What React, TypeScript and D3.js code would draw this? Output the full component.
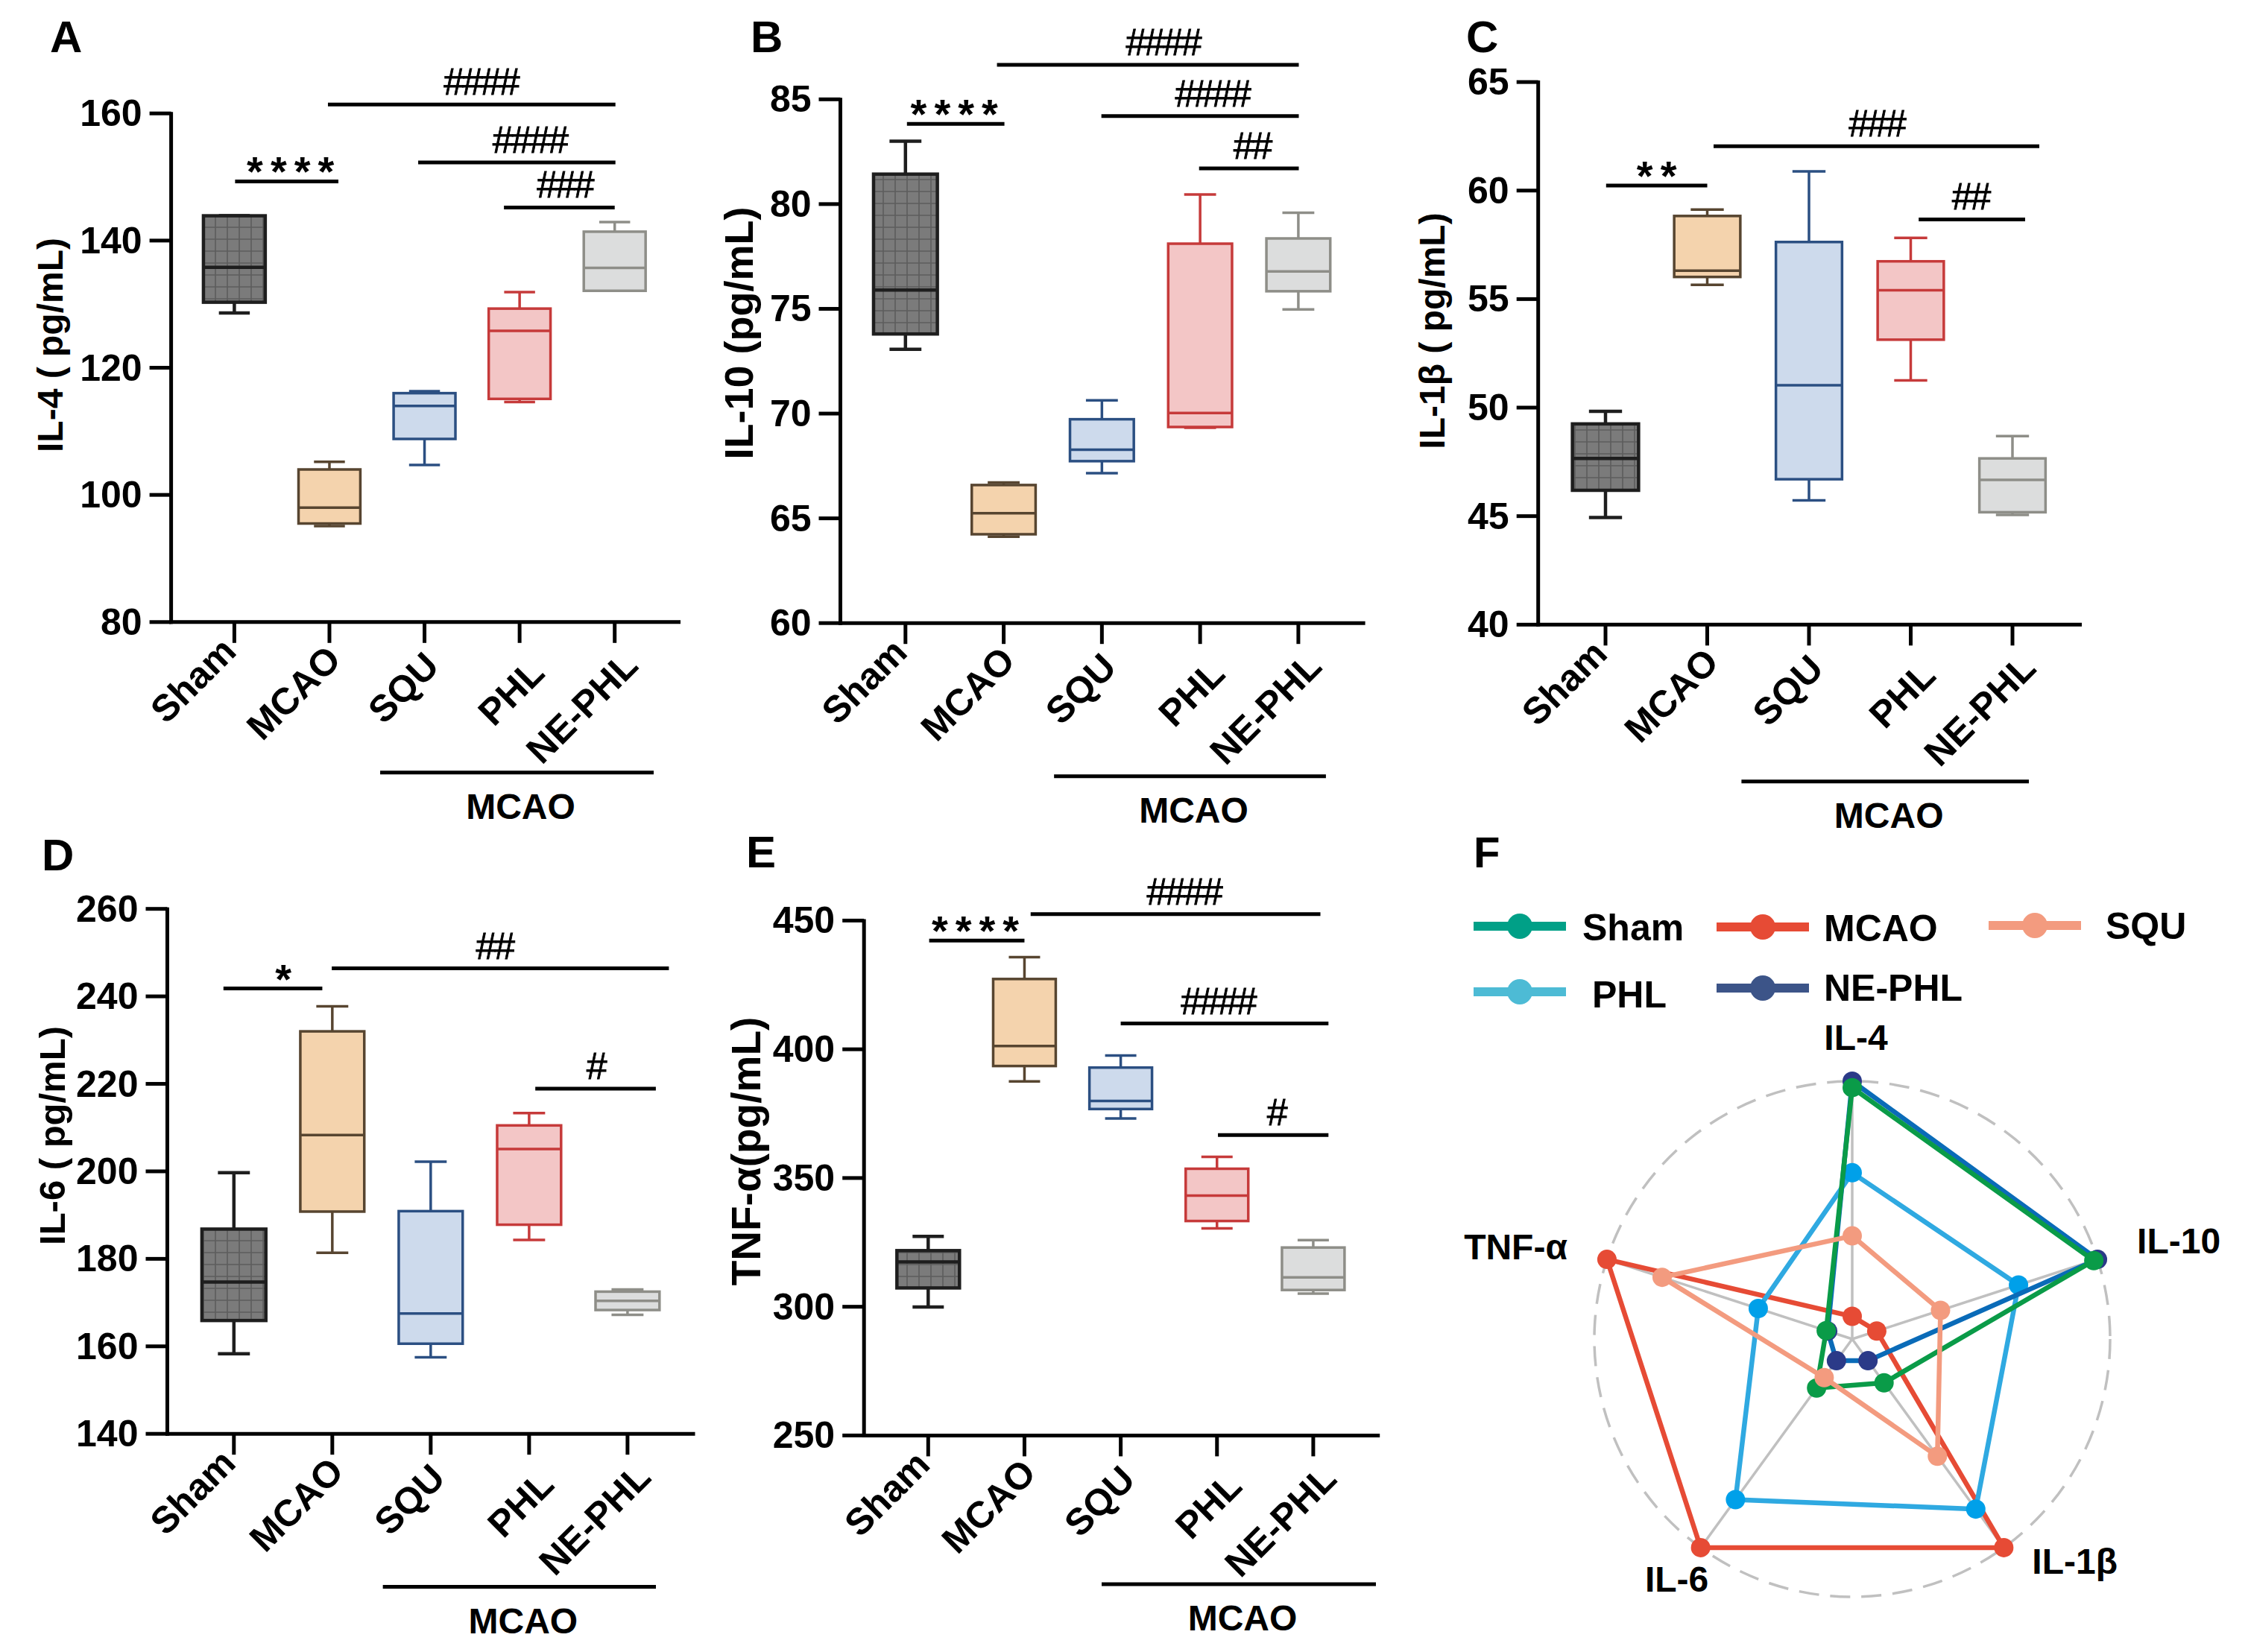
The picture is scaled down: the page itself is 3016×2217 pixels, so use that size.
import React from "react";
import * as d3 from "d3";

const CATEGORIES = ["Sham", "MCAO", "SQU", "PHL", "NE-PHL"];

// box statistics per group: [min, q1, median, q3, max]
const IL4_STATS = [
  [128.6, 130.3, 135.8, 143.9, 143.9],
  [95.1, 95.5, 98.0, 104.0, 105.2],
  [104.7, 108.8, 114.0, 116.0, 116.3],
  [114.6, 115.1, 125.8, 129.3, 131.9],
  [132.1, 132.1, 135.7, 141.4, 142.9],
];
const IL10_STATS = [
  [73.07, 73.8, 75.9, 81.43, 83.0],
  [64.12, 64.24, 65.24, 66.59, 66.71],
  [67.16, 67.73, 68.28, 69.73, 70.63],
  [69.33, 69.36, 70.03, 78.11, 80.46],
  [74.97, 75.84, 76.79, 78.36, 79.59],
];
const IL1B_STATS = [
  [44.94, 46.19, 47.66, 49.25, 49.83],
  [55.66, 56.02, 56.31, 58.83, 59.12],
  [45.73, 46.7, 51.03, 57.63, 60.88],
  [51.25, 53.13, 55.41, 56.74, 57.82],
  [45.06, 45.18, 46.67, 47.66, 48.69],
];
const IL6_STATS = [
  [158.3, 165.9, 174.7, 186.8, 199.7],
  [181.4, 190.8, 208.3, 232.0, 237.7],
  [157.5, 160.6, 167.5, 190.9, 202.2],
  [184.3, 187.8, 205.1, 210.5, 213.3],
  [167.2, 168.3, 170.4, 172.5, 173.0],
];
const TNF_STATS = [
  [299.9, 307.3, 317.4, 321.8, 327.3],
  [387.5, 393.5, 401.3, 427.3, 435.8],
  [373.1, 376.8, 379.9, 392.9, 397.6],
  [330.4, 333.3, 343.2, 353.6, 358.2],
  [305.1, 306.5, 311.4, 323.0, 325.9],
];

const IL4_TICKS = [80, 100, 120, 140, 160];
const IL10_TICKS = [60, 65, 70, 75, 80, 85];
const IL1B_TICKS = [40, 45, 50, 55, 60, 65];
const IL6_TICKS = [140, 160, 180, 200, 220, 240, 260];
const TNF_TICKS = [250, 300, 350, 400, 450];

// significance: [fromIndex, toIndex, label, y value]
const IL4_SIG = [[0, 1, "****", 149.3], [1, 4, "####", 161.4], [2, 4, "####", 152.3], [3, 4, "###", 145.2]];
const IL10_SIG = [[0, 1, "****", 83.83], [1, 4, "####", 86.65], [2, 4, "####", 84.2], [3, 4, "##", 81.7]];
const IL1B_SIG = [[0, 1, "**", 60.23], [1, 4, "###", 62.04], [3, 4, "##", 58.67]];
const IL6_SIG = [[0, 1, "*", 241.8], [1, 4, "##", 246.4], [3, 4, "#", 218.9]];
const TNF_SIG = [[0, 1, "****", 442.2], [1, 4, "####", 452.5], [2, 4, "####", 410.0], [3, 4, "#", 366.7]];

// radar (normalised values)
const RADAR_AXES = ["IL-4", "IL-10", "IL-1β", "IL-6", "TNF-α"];
const RADAR_SHAM = [0.975, 0.985, 0.21, 0.235, 0.106];
const RADAR_MCAO = [0.088, 0.1, 1.0, 1.0, 1.0];
const RADAR_SQU = [0.4, 0.36, 0.562, 0.185, 0.775];
const RADAR_PHL = [0.645, 0.678, 0.815, 0.77, 0.383];
const RADAR_NEPHL = [1.0, 1.0, 0.104, 0.104, 0.1];

const FONT = "'Liberation Sans', Arial, Helvetica, sans-serif";

const BOX_STYLE = [
  { fill: "url(#shamGrid)", stroke: "#1e1e1e", sw: 4.5 },
  { fill: "#f4d3ad", stroke: "#574530", sw: 3.5 },
  { fill: "#cddaec", stroke: "#2b4f82", sw: 3.5 },
  { fill: "#f3c6c6", stroke: "#c63a3a", sw: 3.5 },
  { fill: "#dcdddd", stroke: "#8e8e88", sw: 3.5 },
];

const LABEL_DX = [5, 18, 22, 36, 34];
const LABEL_DY = [42, 53, 62, 71, 61];

const PANELS = [
  {
    letter: "A", letterX: 67, letterY: 70, title: "IL-4 ( pg/mL)", titleX: 67, titleY: 463, titleSize: 48,
    stats: IL4_STATS, ticks: IL4_TICKS, domain: [80, 160], axisX: 229.6, yTop: 152.2, yBottom: 834.8, xEnd: 913,
    cat0: 314.4, cat4: 824.7, sig: IL4_SIG,
    sigShift: [[1, 12, 5], [-2, 1, 12], [-8.5, 1, 17], [-21, 0, 7]],
    group: [-59.5, 52.3, 202],
  },
  {
    letter: "B", letterX: 1007, letterY: 70, title: "IL-10 (pg/mL)", titleX: 991, titleY: 447, titleSize: 54,
    stats: IL10_STATS, ticks: IL10_TICKS, domain: [60, 85], axisX: 1127.5, yTop: 133.3, yBottom: 836.2, xEnd: 1831.6,
    cat0: 1214.8, cat4: 1741.9, sig: IL10_SIG,
    sigShift: [[2, 1, -2], [-9, 0.6, 20], [-0.7, 0.6, 16], [-1.4, 0.6, 4]],
    group: [-64.2, 37, 205.5],
  },
  {
    letter: "C", letterX: 1967, letterY: 70, title: "IL-1β  ( pg/mL)", titleX: 1921, titleY: 444, titleSize: 48,
    stats: IL1B_STATS, ticks: IL1B_TICKS, domain: [40, 65], axisX: 2063.7, yTop: 110.1, yBottom: 838.3, xEnd: 2793,
    cat0: 2154, cat4: 2700, sig: IL1B_SIG,
    sigShift: [[0.8, 0, 0], [8.5, 36, 0], [10.7, 17, -2]],
    group: [-90.6, 22, 210.4],
  },
  {
    letter: "D", letterX: 56, letterY: 1168, title: "IL-6 ( pg/mL)", titleX: 70, titleY: 1524, titleSize: 49,
    stats: IL6_STATS, ticks: IL6_TICKS, domain: [140, 260], axisX: 224.5, yTop: 1219.7, yBottom: 1924.2, xEnd: 932.5,
    cat0: 313.8, cat4: 841.9, sig: IL6_SIG,
    sigShift: [[-14, -13.4, 14], [-0.7, 55.5, -8], [8.3, 38, 0]],
    group: [-64.2, 38.1, 205.3],
  },
  {
    letter: "E", letterX: 1001, letterY: 1164, title: "TNF-α(pg/mL)", titleX: 1001, titleY: 1545, titleSize: 55,
    stats: TNF_STATS, ticks: TNF_TICKS, domain: [250, 450], axisX: 1159.2, yTop: 1235.4, yBottom: 1926.4, xEnd: 1851.2,
    cat0: 1245.3, cat4: 1761.9, sig: TNF_SIG,
    sigShift: [[1.3, 0, -2], [8.3, 9.6, 11], [0, 20.4, -9], [1.3, 20.4, 4]],
    group: [-25.6, 84.1, 199.5],
  },
];

function BoxPanel({ cfg }: { cfg: any }) {
  const y = d3.scaleLinear().domain(cfg.domain).range([cfg.yBottom, cfg.yTop]);
  const x = d3.scalePoint<string>().domain(CATEGORIES).range([cfg.cat0, cfg.cat4]);
  const step = x.step();
  const bw = step * 0.65;
  const cw = bw * 0.5;
  const axisY = cfg.yBottom;
  const gx0 = (x(CATEGORIES[2]) as number) + cfg.group[0];
  const gx1 = (x(CATEGORIES[4]) as number) + cfg.group[1];
  const gy = axisY + cfg.group[2];
  return (
    <g fontFamily={FONT} fontWeight="bold">
      <text x={cfg.letterX} y={cfg.letterY} fontSize={60}>{cfg.letter}</text>
      <text
        transform={`translate(${cfg.titleX},${cfg.titleY}) rotate(-90)`}
        textAnchor="middle"
        dominantBaseline="central"
        fontSize={cfg.titleSize}
      >
        {cfg.title}
      </text>
      {/* axes */}
      <line x1={cfg.axisX} x2={cfg.axisX} y1={cfg.yTop - 2} y2={axisY + 2.5} stroke="#000" strokeWidth={5} />
      <line x1={cfg.axisX - 2.5} x2={cfg.xEnd} y1={axisY} y2={axisY} stroke="#000" strokeWidth={5} />
      {cfg.ticks.map((t: number) => (
        <g key={t}>
          <line x1={cfg.axisX - 29} x2={cfg.axisX} y1={y(t)} y2={y(t)} stroke="#000" strokeWidth={5} />
          <text x={cfg.axisX - 39} y={y(t)} textAnchor="end" dominantBaseline="central" fontSize={50}>
            {t}
          </text>
        </g>
      ))}
      {CATEGORIES.map((c, i) => {
        const cx = x(c) as number;
        return (
          <g key={c}>
            <line x1={cx} x2={cx} y1={axisY} y2={axisY + 28} stroke="#000" strokeWidth={5} />
            <text
              transform={`translate(${cx + LABEL_DX[i]},${axisY + LABEL_DY[i]}) rotate(-45)`}
              textAnchor="end"
              fontSize={50}
            >
              {c}
            </text>
          </g>
        );
      })}
      {/* boxes */}
      {cfg.stats.map((s: number[], i: number) => {
        const cx = x(CATEGORIES[i]) as number;
        const st = BOX_STYLE[i];
        const [mn, q1, md, q3, mx] = s;
        return (
          <g key={i} stroke={st.stroke} strokeWidth={st.sw}>
            <line x1={cx} x2={cx} y1={y(q3)} y2={y(mx)} />
            <line x1={cx} x2={cx} y1={y(q1)} y2={y(mn)} />
            <line x1={cx - cw / 2} x2={cx + cw / 2} y1={y(mx)} y2={y(mx)} />
            <line x1={cx - cw / 2} x2={cx + cw / 2} y1={y(mn)} y2={y(mn)} />
            <rect x={cx - bw / 2} y={y(q3)} width={bw} height={Math.max(0.5, y(q1) - y(q3))} fill={st.fill} />
            <line x1={cx - bw / 2} x2={cx + bw / 2} y1={y(md)} y2={y(md)} />
          </g>
        );
      })}
      {/* significance */}
      {cfg.sig.map((sg: any[], k: number) => {
        const [a, b, label, v] = sg;
        const sh = cfg.sigShift[k];
        const x0 = (x(CATEGORIES[a]) as number) + sh[0];
        const x1 = (x(CATEGORIES[b]) as number) + sh[1];
        const ly = y(v);
        const isStar = label[0] === "*";
        return (
          <g key={k}>
            <line x1={x0} x2={x1} y1={ly} y2={ly} stroke="#000" strokeWidth={5} />
            {isStar ? (
              <text x={(x0 + x1) / 2 + sh[2] + 5} y={ly + 6} textAnchor="middle" fontSize={56} letterSpacing={10}>
                {label}
              </text>
            ) : (
              <text
                x={(x0 + x1) / 2 + sh[2]}
                y={ly - 13}
                textAnchor="middle"
                fontSize={50}
                fontWeight="normal"
                stroke="#000"
                strokeWidth={0.8}
                letterSpacing={-3}
              >
                {label}
              </text>
            )}
          </g>
        );
      })}
      {/* group label */}
      <line x1={gx0} x2={gx1} y1={gy} y2={gy} stroke="#000" strokeWidth={5} />
      <text x={(gx0 + gx1) / 2 + 5} y={gy + 62} textAnchor="middle" fontSize={48}>
        MCAO
      </text>
    </g>
  );
}

const RADAR_SERIES = [
  { name: "MCAO", values: RADAR_MCAO, line: "#e64b35", dot: "#e64b35" },
  { name: "PHL", values: RADAR_PHL, line: "#2fa9e1", dot: "#00a0e9" },
  { name: "NE-PHL", values: RADAR_NEPHL, line: "#0a6bb8", dot: "#2b3a88" },
  { name: "Sham", values: RADAR_SHAM, line: "#0a9b48", dot: "#0a9b48" },
  { name: "SQU", values: RADAR_SQU, line: "#f39b7f", dot: "#f39b7f" },
];

const LEGEND_ITEMS = [
  { name: "Sham", color: "#00A087" },
  { name: "MCAO", color: "#E64B35" },
  { name: "SQU", color: "#F39B7F" },
  { name: "PHL", color: "#4DBBD5" },
  { name: "NE-PHL", color: "#3C5488" },
];
const LEGEND_POS = [
  { lx: 1977, ly: 1243, tx: 2123, ty: 1262 },
  { lx: 2303, ly: 1244, tx: 2447, ty: 1263 },
  { lx: 2668, ly: 1242, tx: 2825, ty: 1260 },
  { lx: 1977, ly: 1331, tx: 2136, ty: 1352 },
  { lx: 2303, ly: 1326, tx: 2447, ty: 1343 },
];
const RADAR_LABEL_POS = [
  { dx: 5, dy: -42, anchor: "middle" },
  { dx: 53, dy: -8, anchor: "start" },
  { dx: 38, dy: 35, anchor: "start" },
  { dx: -32, dy: 59, anchor: "middle" },
  { dx: -53, dy: 0, anchor: "end" },
];

function Radar() {
  const cx = 2485;
  const cy = 1797;
  const R = 346;
  const r = d3.scaleLinear().domain([0, 1]).range([0, R]);
  const angle = d3
    .scalePoint<string>()
    .domain(RADAR_AXES)
    .range([0, (2 * Math.PI * (RADAR_AXES.length - 1)) / RADAR_AXES.length]);
  const pt = (i: number, v: number): [number, number] => {
    const a = (angle(RADAR_AXES[i]) as number) - Math.PI / 2;
    return [cx + r(v) * Math.cos(a), cy + r(v) * Math.sin(a)];
  };
  const line = d3.line<[number, number]>().curve(d3.curveLinearClosed);
  return (
    <g fontFamily={FONT} fontWeight="bold">
      <text x={1977} y={1164} fontSize={58}>F</text>
      {LEGEND_ITEMS.map((it, i) => {
        const p = LEGEND_POS[i];
        return (
          <g key={it.name}>
            <line x1={p.lx} x2={p.lx + 124} y1={p.ly} y2={p.ly} stroke={it.color} strokeWidth={12} />
            <circle cx={p.lx + 62} cy={p.ly} r={17} fill={it.color} />
            <text x={p.tx} y={p.ty} fontSize={50}>{it.name}</text>
          </g>
        );
      })}
      <circle cx={cx} cy={cy} r={R} fill="none" stroke="#c0c0c0" strokeWidth={3.5} strokeDasharray="27 15" />
      {RADAR_AXES.map((ax, i) => {
        const [x2, y2] = pt(i, 1);
        return <line key={ax} x1={cx} y1={cy} x2={x2} y2={y2} stroke="#c0c0c0" strokeWidth={3.5} />;
      })}
      {RADAR_SERIES.map((s) => {
        const pts = s.values.map((v, i) => pt(i, v));
        return (
          <g key={s.name}>
            <path d={line(pts) as string} fill="none" stroke={s.line} strokeWidth={6.5} strokeLinejoin="round" />
            {pts.map((p, i) => (
              <circle key={i} cx={p[0]} cy={p[1]} r={13} fill={s.dot} />
            ))}
          </g>
        );
      })}
      {RADAR_AXES.map((ax, i) => {
        const [ex, ey] = pt(i, 1);
        const lp = RADAR_LABEL_POS[i];
        return (
          <text key={ax} x={ex + lp.dx} y={ey + lp.dy} textAnchor={lp.anchor as any} fontSize={48}>
            {ax}
          </text>
        );
      })}
    </g>
  );
}

export default function App() {
  return (
    <svg
      width={3016}
      height={2217}
      viewBox="0 0 3016 2217"
      style={{ position: "absolute", left: 0, top: 0, display: "block", background: "#fff" }}
    >
      <defs>
        <pattern id="shamGrid" patternUnits="userSpaceOnUse" width={16} height={16}>
          <rect width={16} height={16} fill="#7b7b7b" />
          <path d="M0 1H16 M1 0V16" stroke="#5c5c5c" strokeWidth={1.6} />
        </pattern>
      </defs>
      <rect width={3016} height={2217} fill="#fff" />
      {PANELS.map((p) => (
        <BoxPanel key={p.letter} cfg={p} />
      ))}
      <Radar />
    </svg>
  );
}
